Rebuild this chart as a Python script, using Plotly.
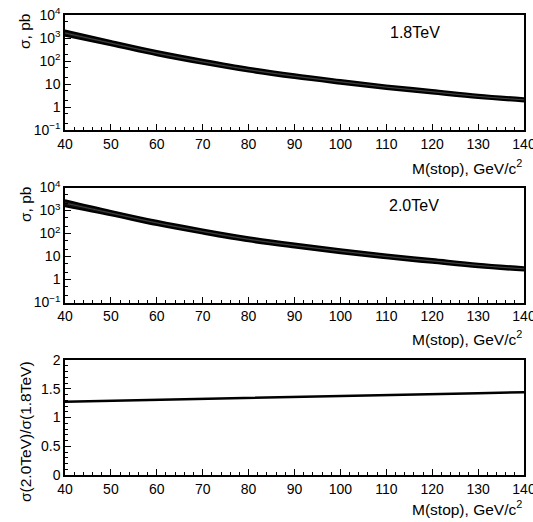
import plotly.graph_objects as go

mass = [40, 50, 60, 70, 80, 90, 100, 110, 120, 130, 140]

sig18_up = [2150, 740, 270, 113, 51, 26.5, 15.0, 8.7, 5.5, 3.45, 2.4]
sig18_mid = [1650, 600, 220, 92, 42, 22.0, 12.5, 7.3, 4.6, 2.9, 2.05]
sig18_dn = [1250, 480, 178, 75, 34.5, 18.0, 10.3, 6.1, 3.85, 2.45, 1.75]

sig20_up = [2800, 960, 355, 150, 69, 36.5, 20.8, 12.2, 7.75, 4.9, 3.4]
sig20_mid = [2100, 775, 288, 122, 56, 30.0, 17.2, 10.1, 6.45, 4.1, 2.9]
sig20_dn = [1550, 620, 232, 99, 45.5, 24.5, 14.0, 8.3, 5.3, 3.4, 2.45]

ratio = [1.275, 1.29, 1.31, 1.325, 1.34, 1.357, 1.375, 1.39, 1.405, 1.42, 1.44]

log_tickvals = [0.1, 1, 10, 100, 1000, 10000]
log_ticktext = ["10<sup>−1</sup>", "1", "10", "10<sup>2</sup>", "10<sup>3</sup>", "10<sup>4</sup>"]
x_ticks = [40, 50, 60, 70, 80, 90, 100, 110, 120, 130, 140]
ratio_ticks = [0, 0.5, 1, 1.5, 2]

W, H = 533, 522
FONT = "Liberation Sans, Arial, sans-serif"

fig = go.Figure()


def band(xaxis, yaxis, up, mid, dn):
    fig.add_trace(go.Scatter(x=mass, y=up, mode="lines", line=dict(color="black", width=2, shape="spline"),
                             xaxis=xaxis, yaxis=yaxis, showlegend=False, hoverinfo="skip"))
    fig.add_trace(go.Scatter(x=mass, y=dn, mode="lines", line=dict(color="black", width=2, shape="spline"),
                             fill="tonexty", fillcolor="#111111",
                             xaxis=xaxis, yaxis=yaxis, showlegend=False, hoverinfo="skip"))
    fig.add_trace(go.Scatter(x=mass, y=mid, mode="lines", line=dict(color="#666666", width=0.6, shape="spline"),
                             xaxis=xaxis, yaxis=yaxis, showlegend=False, hoverinfo="skip"))


band("x", "y", sig18_up, sig18_mid, sig18_dn)
band("x2", "y2", sig20_up, sig20_mid, sig20_dn)
fig.add_trace(go.Scatter(x=mass, y=ratio, mode="lines", line=dict(color="black", width=2.5),
                         xaxis="x3", yaxis="y3", showlegend=False, hoverinfo="skip"))

xdom = [65 / W, 524 / W]


def ydom(top, bot):
    return [1 - bot / H, 1 - top / H]


xcommon = dict(range=[40, 140], tickvals=x_ticks, ticks="inside", ticklen=6, tickwidth=1,
               tickcolor="black", showline=True, linecolor="black", linewidth=1.5, mirror=True,
               showgrid=False, zeroline=False, domain=xdom, ticklabeloverflow="allow",
               automargin=False,
               tickfont=dict(family=FONT, size=14, color="black"),
               minor=dict(ticks="inside", ticklen=3, dtick=2, tickcolor="black", showgrid=False))

ylog = dict(type="log", range=[-1, 4], tickvals=log_tickvals, ticktext=log_ticktext,
            ticks="inside", ticklen=6, tickcolor="black", showline=True, linecolor="black",
            linewidth=1.5, mirror=True, showgrid=False, zeroline=False, automargin=False,
            tickfont=dict(family=FONT, size=14, color="black"),
            minor=dict(ticks="inside", ticklen=3, tickcolor="black", showgrid=False))

fig.update_layout(
    width=W, height=H, margin=dict(l=0, r=0, t=0, b=0, autoexpand=False),
    paper_bgcolor="white", plot_bgcolor="white",
    xaxis=dict(**xcommon, anchor="y"),
    yaxis=dict(**ylog, domain=ydom(15, 130), anchor="x"),
    xaxis2=dict(**xcommon, anchor="y2"),
    yaxis2=dict(**ylog, domain=ydom(187.5, 302.5), anchor="x2"),
    xaxis3=dict(**xcommon, anchor="y3"),
    yaxis3=dict(range=[0, 2], tickvals=ratio_ticks, ticktext=["0", "0.5", "1", "1.5", "2"],
                ticks="inside", ticklen=6, tickcolor="black", showline=True, linecolor="black",
                linewidth=1.5, mirror=True, showgrid=False, zeroline=False, automargin=False,
                domain=ydom(360, 475), anchor="x3",
                tickfont=dict(family=FONT, size=14, color="black"),
                minor=dict(ticks="inside", ticklen=3, dtick=0.1, tickcolor="black", showgrid=False)),
    font=dict(family=FONT, color="black"),
)

ann = []
for ycen in (167, 338, 508):
    ann.append(dict(text="M(stop), GeV/c<sup>2</sup>", xref="paper", yref="paper", x=524 / W, y=1 - ycen / H,
                    xanchor="right", yanchor="middle", showarrow=False, font=dict(family=FONT, size=15.5)))
for ycen, txt in ((32, "σ, pb"), (205, "σ, pb"), (432, "σ(2.0TeV)/σ(1.8TeV)")):
    ann.append(dict(text=txt, xref="paper", yref="paper", x=25 / W, y=1 - ycen / H, textangle=-90,
                    xanchor="center", yanchor="middle", showarrow=False, font=dict(family=FONT, size=15.5)))
ann.append(dict(text="1.8TeV", xref="paper", yref="paper", x=415 / W, y=1 - 33 / H,
                xanchor="center", yanchor="middle", showarrow=False, font=dict(family=FONT, size=16)))
ann.append(dict(text="2.0TeV", xref="paper", yref="paper", x=414 / W, y=1 - 205 / H,
                xanchor="center", yanchor="middle", showarrow=False, font=dict(family=FONT, size=16)))
fig.update_layout(annotations=ann)

fig.write_html("out.html", config={"displayModeBar": False},
               post_script="document.body.style.margin='0';document.body.style.overflow='hidden';")
